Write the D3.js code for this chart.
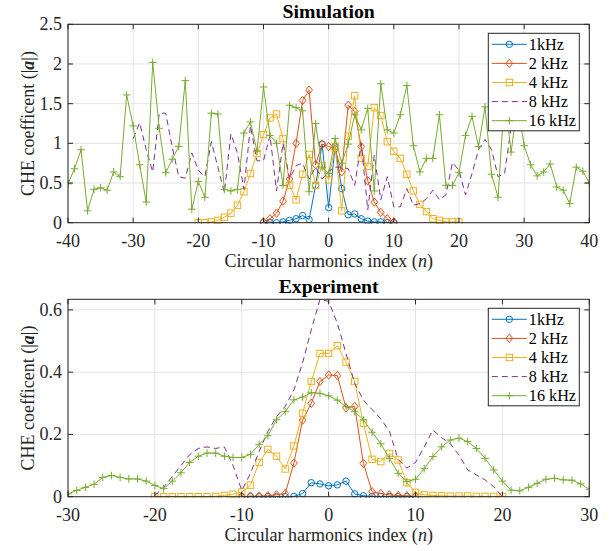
<!DOCTYPE html>
<html><head><meta charset="utf-8">
<script src="https://cdn.jsdelivr.net/npm/d3@7"></script>
<style>body{margin:0;background:#fff}svg{display:block}</style>
</head><body>
<svg id="chart" width="615" height="551"></svg>
<script>
// ---------- DATA ----------
const legendLabels = ["1kHz","2 kHz","4 kHz","8 kHz","16 kHz"];
const colors = ["#0072BD","#D95319","#EDB120","#7E2F8E","#77AC30"];
const markers = ["circle","diamond","square","none","plus"];

// Simulation (top)
const simStart = [-10,-10,-20,-30,-40];
const sim1k = [0.00,0.00,0.00,0.01,0.03,0.05,0.09,0.04,0.47,0.99,0.19,0.96,0.43,0.10,0.11,0.05,0.02,0.01,0.01,0.00,0.00];
const sim2k = [0.01,0.05,0.12,0.27,0.55,1.00,1.54,1.67,0.73,0.99,0.96,0.93,0.64,1.48,1.40,0.96,0.53,0.26,0.13,0.05,0.01];
const sim4k = [0.00,0.00,0.01,0.03,0.07,0.12,0.22,0.39,0.62,0.87,1.11,1.32,1.37,1.06,0.47,0.29,0.61,0.86,0.47,0.72,
               0.54,0.96,0.15,1.09,1.60,0.81,0.71,1.45,1.35,1.02,0.90,0.81,0.61,0.40,0.23,0.14,0.05,0.03,0.01,0.01,0.01];
const sim8k = [1.06,1.26,0.92,0.64,1.38,1.38,0.95,0.58,0.56,0.88,0.66,0.58,1.02,0.70,0.38,1.12,0.88,0.42,1.22,0.78,
               0.78,1.10,0.40,1.00,0.55,0.72,0.75,0.55,0.70,0.55,0.65,0.70,0.70,0.68,0.47,1.00,0.16,0.85,0.29,0.58,
               0.20,0.20,0.43,0.22,0.24,0.30,0.41,0.29,0.35,0.76,0.66,0.35,0.62,0.92,1.05,0.92,0.58,0.62,1.20,1.30,1.20];
const sim16k = [0.49,0.68,0.92,0.15,0.42,0.44,0.41,0.64,0.58,1.61,1.22,0.73,0.26,2.02,1.19,0.63,0.80,0.96,1.79,0.17,
                0.52,0.32,1.38,1.37,0.42,0.40,0.42,1.13,1.27,0.90,1.71,1.10,1.00,0.47,1.48,1.45,1.41,0.39,1.25,0.70,
                0.62,1.06,0.75,0.99,1.36,1.17,1.44,0.40,1.75,1.17,1.13,1.36,1.73,0.97,0.64,0.81,0.81,1.36,0.47,0.47,
                0.63,1.10,1.34,0.96,1.46,0.61,0.32,1.60,0.89,1.50,0.97,0.73,0.59,0.64,0.74,0.45,0.41,0.24,0.70,0.65,0.50];

// Experiment (bottom)
const expStart = [-10,-10,-20,-20,-30];
const exp1k = [0.000,0.000,0.000,0.000,0.000,0.000,0.001,0.010,0.045,0.041,0.035,0.038,0.050,0.009,0.003,0.001,0.001,0.001,0.000,0.000,0.000];
const exp2k = [0.000,0.002,0.002,0.003,0.006,0.010,0.108,0.246,0.300,0.370,0.391,0.389,0.285,0.290,0.107,0.016,0.010,0.006,0.004,0.003,0.002];
const exp4k = [0.000,0.000,0.000,0.000,0.000,0.000,0.000,0.001,0.004,0.008,0.015,0.037,0.110,0.152,0.130,0.089,0.163,0.268,0.370,0.460,
               0.460,0.485,0.432,0.370,0.236,0.120,0.113,0.139,0.118,0.045,0.014,0.006,0.004,0.003,0.002,0.002,0.002,0.001,0.001,0.001,0.001];
const exp8k = [0.004,0.030,0.065,0.100,0.135,0.155,0.160,0.155,0.160,0.100,0.020,0.075,0.145,0.210,0.257,0.290,0.343,0.430,0.536,0.634,
               0.627,0.557,0.460,0.364,0.310,0.280,0.250,0.210,0.120,0.092,0.110,0.160,0.214,0.190,0.170,0.134,0.086,0.070,0.054,0.032,0.000];
const exp16k = [0.009,0.020,0.030,0.040,0.062,0.068,0.062,0.057,0.057,0.050,0.036,0.026,0.050,0.077,0.110,0.130,0.140,0.140,0.130,0.126,
                0.126,0.136,0.168,0.196,0.247,0.273,0.311,0.320,0.334,0.332,0.324,0.310,0.290,0.273,0.247,0.207,0.170,0.123,0.075,0.048,
                0.056,0.090,0.129,0.160,0.182,0.188,0.177,0.155,0.123,0.086,0.050,0.021,0.019,0.030,0.043,0.056,0.059,0.054,0.053,0.041,0.024];

const simTicksX = [-40,-30,-20,-10,0,10,20,30,40];
const simTicksY = [0,0.5,1,1.5,2,2.5];
const simTickLabelsY = ["0","0.5","1","1.5","2","2.5"];
const expTicksX = [-30,-20,-10,0,10,20,30];
const expTicksY = [0,0.2,0.4,0.6];
const expTickLabelsY = ["0","0.2","0.4","0.6"];

// ---------- DRAW ----------
const svg = d3.select("#chart");
const FONT = "'Liberation Serif','Times New Roman',serif";
const axisColor = "#262626";

function drawPanel(cfg){
  const {left,right,top,bottom,xDomain,yDomain,xTicks,yTicks,yLabels,series,starts,title,legendTop} = cfg;
  const x = d3.scaleLinear().domain(xDomain).range([left,right]);
  const y = d3.scaleLinear().domain(yDomain).range([bottom,top]);
  const g = svg.append("g");
  const clipId = "clip"+Math.round(top);
  g.append("clipPath").attr("id",clipId).append("rect")
    .attr("x",left).attr("y",top-1).attr("width",right-left).attr("height",bottom-top+2);

  // grid
  g.append("g").selectAll("line").data(xTicks).join("line")
    .attr("x1",d=>x(d)).attr("x2",d=>x(d)).attr("y1",top).attr("y2",bottom)
    .attr("stroke","#e3e3e3").attr("stroke-width",1);
  g.append("g").selectAll("line").data(yTicks).join("line")
    .attr("y1",d=>y(d)).attr("y2",d=>y(d)).attr("x1",left).attr("x2",right)
    .attr("stroke","#e3e3e3").attr("stroke-width",1);

  // series
  const plot = g.append("g").attr("clip-path",`url(#${clipId})`);
  series.forEach((vals,i)=>{
    const pts = vals.map((v,k)=>[starts[i]+k, v]);
    const line = d3.line().x(d=>x(d[0])).y(d=>y(d[1]));
    plot.append("path").attr("d",line(pts)).attr("fill","none")
      .attr("stroke",colors[i]).attr("stroke-width",1)
      .attr("stroke-dasharray", i===3 ? "6,4" : null);
    drawMarkers(plot, pts.map(p=>[x(p[0]),y(p[1])]), markers[i], colors[i]);
  });

  // axes (ticks inside, box)
  const ax = g.append("g");
  const tl = 5;
  xTicks.forEach(t=>{
    ax.append("line").attr("x1",x(t)).attr("x2",x(t)).attr("y1",bottom).attr("y2",bottom-tl).attr("stroke",axisColor);
    ax.append("line").attr("x1",x(t)).attr("x2",x(t)).attr("y1",top).attr("y2",top+tl).attr("stroke",axisColor);
  });
  yTicks.forEach(t=>{
    ax.append("line").attr("y1",y(t)).attr("y2",y(t)).attr("x1",left).attr("x2",left+tl).attr("stroke",axisColor);
    ax.append("line").attr("y1",y(t)).attr("y2",y(t)).attr("x1",right).attr("x2",right-tl).attr("stroke",axisColor);
  });
  ax.append("rect").attr("x",left).attr("y",top).attr("width",right-left).attr("height",bottom-top)
    .attr("fill","none").attr("stroke",axisColor).attr("stroke-width",1);

  // tick labels
  g.append("g").selectAll("text").data(xTicks).join("text")
    .attr("x",d=>x(d)).attr("y",bottom+24).attr("text-anchor","middle")
    .attr("font-family",FONT).attr("font-size",18).attr("fill",axisColor).text(d=>String(d));
  g.append("g").selectAll("text").data(yTicks).join("text")
    .attr("x",left-6).attr("y",d=>y(d)).attr("dy","0.33em").attr("text-anchor","end")
    .attr("font-family",FONT).attr("font-size",18).attr("fill",axisColor).text((d,i)=>yLabels[i]);

  // x label
  const xl = g.append("text").attr("x",(left+right)/2).attr("y",bottom+44).attr("text-anchor","middle")
    .attr("font-family",FONT).attr("font-size",18).attr("fill",axisColor);
  xl.append("tspan").text("Circular harmonics index (");
  xl.append("tspan").attr("font-style","italic").text("n");
  xl.append("tspan").text(")");

  // y label
  const yl = g.append("text").attr("transform",`translate(${left-34},${(top+bottom)/2}) rotate(-90)`)
    .attr("text-anchor","middle").attr("font-family",FONT).attr("font-size",18).attr("fill",axisColor);
  yl.append("tspan").text("CHE coefficent (|");
  yl.append("tspan").attr("font-weight","bold").attr("font-style","italic").text("a");
  yl.append("tspan").text("|)");

  // title
  g.append("text").attr("x",(left+right)/2).attr("y",top-6.5).attr("text-anchor","middle")
    .attr("font-family",FONT).attr("font-size",19.8).attr("font-weight","bold").attr("fill","#000").text(title);

  // legend
  const lx = 488.3, lw = 91, lh = 97.5, step = 19.1;
  const lg = g.append("g");
  lg.append("rect").attr("x",lx).attr("y",legendTop).attr("width",lw).attr("height",lh)
    .attr("fill","#fff").attr("stroke",axisColor).attr("stroke-width",1);
  legendLabels.forEach((lab,i)=>{
    const cy = legendTop + 11 + i*step;
    lg.append("line").attr("x1",lx+3.5).attr("x2",lx+38.5).attr("y1",cy).attr("y2",cy)
      .attr("stroke",colors[i]).attr("stroke-width",1).attr("stroke-dasharray", i===3 ? "6,4" : null);
    drawMarkers(lg, [[lx+21,cy]], markers[i], colors[i]);
    lg.append("text").attr("x",lx+40.5).attr("y",cy).attr("dy","0.33em")
      .attr("font-family",FONT).attr("font-size",16.2).attr("fill","#000").text(lab);
  });
}

function drawMarkers(sel, pts, type, color){
  if(type==="none") return;
  const mg = sel.append("g").attr("stroke",color).attr("fill","none").attr("stroke-width",1);
  pts.forEach(([px,py])=>{
    if(type==="circle") mg.append("circle").attr("cx",px).attr("cy",py).attr("r",3.2);
    else if(type==="square") mg.append("rect").attr("x",px-3.2).attr("y",py-3.2).attr("width",6.4).attr("height",6.4);
    else if(type==="diamond") mg.append("path").attr("d",`M${px},${py-4.2}L${px+3.4},${py}L${px},${py+4.2}L${px-3.4},${py}Z`);
    else if(type==="plus") mg.append("path").attr("d",`M${px-3.8},${py}H${px+3.8}M${px},${py-3.8}V${py+3.8}`);
  });
}

drawPanel({left:68,right:589.3,top:24.3,bottom:222.7,xDomain:[-40,40],yDomain:[0,2.5],
  xTicks:simTicksX,yTicks:simTicksY,yLabels:simTickLabelsY,
  series:[sim1k,sim2k,sim4k,sim8k,sim16k],starts:simStart,title:"Simulation",legendTop:33.3});
drawPanel({left:68,right:589.3,top:299.3,bottom:496.7,xDomain:[-30,30],yDomain:[0,0.634],
  xTicks:expTicksX,yTicks:expTicksY,yLabels:expTickLabelsY,
  series:[exp1k,exp2k,exp4k,exp8k,exp16k],starts:expStart,title:"Experiment",legendTop:308.3});
</script>
</body></html>
